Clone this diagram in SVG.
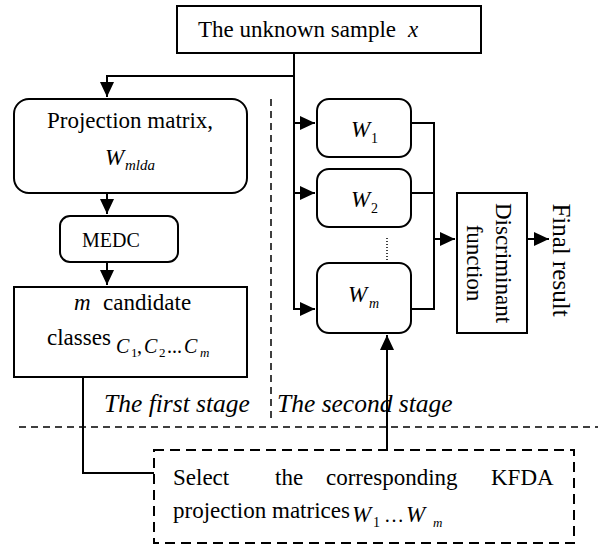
<svg xmlns="http://www.w3.org/2000/svg" width="608" height="547" viewBox="0 0 608 547">
<style>
text{font-family:"Liberation Serif","Times New Roman",serif;fill:#000}
.t{font-size:23px}
.i{font-style:italic}
.box{fill:#fff;stroke:#000;stroke-width:2}
.ln{fill:none;stroke:#000;stroke-width:2}
.dash{fill:none;stroke:#000;stroke-width:1.5;stroke-dasharray:7 5}
.dbox{fill:none;stroke:#000;stroke-width:2;stroke-dasharray:10 6}
</style>
<defs>
<marker id="ah" markerUnits="userSpaceOnUse" markerWidth="16" markerHeight="14" refX="15" refY="7" orient="auto">
<path d="M0,0 L15,7 L0,14 z" fill="#000"/>
</marker>
</defs>
<rect width="608" height="547" fill="#fff"/>

<g id="stage-lines">
<line class="dash" x1="271" y1="99" x2="271" y2="419"/>
<line class="dash" x1="19" y1="427" x2="598" y2="427"/>
<text class="i" x="104" y="412" font-size="25.5">The first stage</text>
<text class="i" x="277" y="412" font-size="25.5">The second stage</text>
</g>

<g id="connectors">
<polyline class="ln" points="294,53 294,309 315,309" marker-end="url(#ah)"/>
<polyline class="ln" points="294,76 107,76 107,97" marker-end="url(#ah)"/>
<line class="ln" x1="294" y1="123" x2="315" y2="123" marker-end="url(#ah)"/>
<line class="ln" x1="294" y1="193" x2="315" y2="193" marker-end="url(#ah)"/>
<line class="ln" x1="107" y1="193" x2="107" y2="214" marker-end="url(#ah)"/>
<line class="ln" x1="107" y1="262" x2="107" y2="285" marker-end="url(#ah)"/>
<polyline class="ln" points="83,377 83,473 154,473"/>
<line class="ln" x1="387" y1="450" x2="387" y2="335" marker-end="url(#ah)"/>
<polyline class="ln" points="411,123 434,123 434,309 411,309"/>
<line class="ln" x1="411" y1="193" x2="434" y2="193"/>
<line class="ln" x1="434" y1="239" x2="455" y2="239" marker-end="url(#ah)"/>
<line class="ln" x1="527" y1="239" x2="549" y2="239" marker-end="url(#ah)"/>
<line x1="387" y1="238" x2="387" y2="260" stroke="#000" stroke-width="1.5" stroke-dasharray="1 2"/>
</g>

<g id="sample">
<rect class="box" x="177" y="6" width="304" height="47"/>
<text class="t" x="198" y="37">The unknown sample</text>
<text class="t i" x="408" y="37">x</text>
</g>

<g id="projection">
<rect class="box" x="14" y="99" width="233" height="94" rx="15"/>
<text class="t" x="47" y="128">Projection matrix,</text>
<text class="t i" x="105" y="165">W</text>
<text class="i" x="125" y="170" font-size="15">mlda</text>
</g>

<g id="medc">
<rect class="box" x="60" y="216" width="118" height="46" rx="10"/>
<text x="82" y="247" font-size="20">MEDC</text>
</g>

<g id="candidates">
<rect class="box" x="14" y="287" width="233" height="90"/>
<text class="t i" x="74" y="310">m</text>
<text class="t" x="103" y="310">candidate</text>
<text class="t" x="47" y="345">classes</text>
<text class="i" x="116" y="353" font-size="20">C</text>
<text x="131" y="357" font-size="13">1</text>
<text x="137" y="353" font-size="20">,</text>
<text class="i" x="144" y="353" font-size="20">C</text>
<text x="159" y="357" font-size="13">2</text>
<text x="167" y="353" font-size="20">...</text>
<text class="i" x="184" y="353" font-size="20">C</text>
<text class="i" x="200" y="357" font-size="13">m</text>
</g>

<g id="w1">
<rect class="box" x="317" y="99" width="94" height="58" rx="12"/>
<text class="t i" x="351" y="137">W</text>
<text x="371" y="143" font-size="14">1</text>
</g>

<g id="w2">
<rect class="box" x="317" y="169" width="94" height="58" rx="12"/>
<text class="t i" x="351" y="207">W</text>
<text x="371" y="213" font-size="14">2</text>
</g>

<g id="wm">
<rect class="box" x="317" y="263" width="94" height="70" rx="12"/>
<text class="t i" x="348" y="302">W</text>
<text class="i" x="369" y="308" font-size="14">m</text>
</g>

<g id="discriminant">
<rect class="box" x="457" y="193" width="70" height="140"/>
<text class="t" text-anchor="middle" transform="translate(496,263) rotate(90)">Discriminant</text>
<text class="t" text-anchor="middle" transform="translate(467,263) rotate(90)">function</text>
</g>

<g id="final">
<text text-anchor="middle" font-size="25" transform="translate(553,260) rotate(90)">Final result</text>
</g>

<g id="select">
<rect class="dbox" x="154" y="450" width="420" height="93"/>
<text class="t" x="173" y="485">Select</text>
<text class="t" x="275" y="485">the</text>
<text class="t" x="326" y="485">corresponding</text>
<text class="t" x="491" y="485">KFDA</text>
<text class="t" x="173" y="518">projection matrices</text>
<text class="t i" x="352" y="522">W</text>
<text x="373" y="527" font-size="14">1</text>
<text x="384" y="522" font-size="20">…</text>
<text class="t i" x="406" y="522">W</text>
<text class="i" x="433" y="527" font-size="13">m</text>
</g>
</svg>
